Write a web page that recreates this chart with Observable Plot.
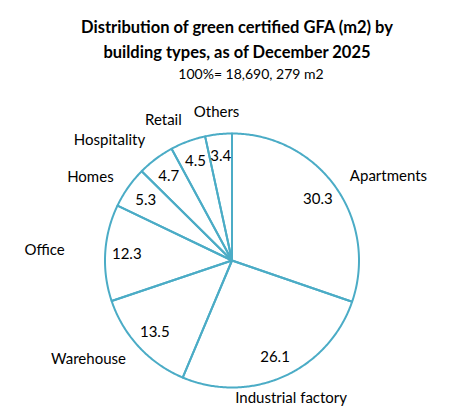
<!DOCTYPE html>
<html>
<head>
<meta charset="utf-8">
<script src="https://cdn.jsdelivr.net/npm/d3@7"></script>
<script src="https://cdn.jsdelivr.net/npm/@observablehq/plot@0.6"></script>
<style>
  html, body { margin: 0; padding: 0; background: #fff; }
  body { width: 467px; height: 419px; overflow: hidden; font-family: Lato, "Open Sans", sans-serif; color: #000; }
  .title { position: absolute; left: 0; width: 474px; top: 15px; text-align: center; font-weight: bold; font-size: 16.5px; line-height: 25px; }
  .sub { position: absolute; left: 0; width: 502px; top: 65px; text-align: center; font-size: 14px; line-height: 18px; }
  #chart { position: absolute; left: 0; top: 90px; }
</style>
</head>
<body>
<div class="title">Distribution of green certified GFA (m2) by<br>building types, as of December 2025</div>
<div class="sub">100%= 18,690, 279 m2</div>
<div id="chart"></div>
<script>
const categories = ["Apartments", "Industrial factory", "Warehouse", "Office", "Homes", "Hospitality", "Retail", "Others"];
const values = [30.3, 26.1, 13.5, 12.3, 5.3, 4.7, 4.5, 3.4];

const R = 127;
const total = d3.sum(values);
let cum = 0;
const slices = categories.map((name, i) => {
  const a0 = cum / total * 2 * Math.PI;
  cum += values[i];
  const a1 = cum / total * 2 * Math.PI;
  return {name, value: values[i], a0, a1, mid: (a0 + a1) / 2};
});

const pts = [];
for (const s of slices) {
  pts.push({name: s.name, x: 0, y: 0});
  const n = Math.max(2, Math.ceil((s.a1 - s.a0) / 0.01));
  for (let k = 0; k <= n; k++) {
    const a = s.a0 + (s.a1 - s.a0) * k / n;
    pts.push({name: s.name, x: R * Math.sin(a), y: R * Math.cos(a)});
  }
  pts.push({name: s.name, x: 0, y: 0});
}

const valLabels = slices.map(s => ({text: s.value.toFixed(1), x: 0.83 * R * Math.sin(s.mid), y: 0.83 * R * Math.cos(s.mid)}));
const catLabels = slices.map(s => {
  const sn = Math.sin(s.mid), cs = Math.cos(s.mid);
  const k = Math.abs(sn) > 0.97 ? 1.32 : 1.14;
  return {
    text: s.name,
    x: k * R * sn, y: k * R * cs,
    anchor: sn > 0.5 ? "start" : sn < -0.3 ? "end" : "middle",
    line: cs < -0.8 ? "top" : cs > 0.8 ? "bottom" : "middle"
  };
});

const groups = d3.groups(catLabels, d => d.anchor + "|" + d.line);

const marks = [
  Plot.line(pts, {x: "x", y: "y", z: "name", stroke: "#4bacc6", strokeWidth: 2, strokeLinejoin: "round"}),
  Plot.text(valLabels, {x: "x", y: "y", text: "text", fontSize: 15, fill: "#000"})
];
for (const [key, arr] of groups) {
  const [anchor, line] = key.split("|");
  marks.push(Plot.text(arr, {x: "x", y: "y", text: "text", textAnchor: anchor, lineAnchor: line, fontSize: 15, fill: "#000"}));
}

const chart = Plot.plot({
  width: 467,
  height: 329,
  margin: 0,
  style: {fontFamily: "Lato, 'Open Sans', sans-serif", background: "transparent"},
  x: {domain: [-231.5, 235.5], range: [0, 467], axis: null},
  y: {domain: [-159, 170], range: [329, 0], axis: null},
  marks
});
document.getElementById("chart").appendChild(chart);
</script>
</body>
</html>
